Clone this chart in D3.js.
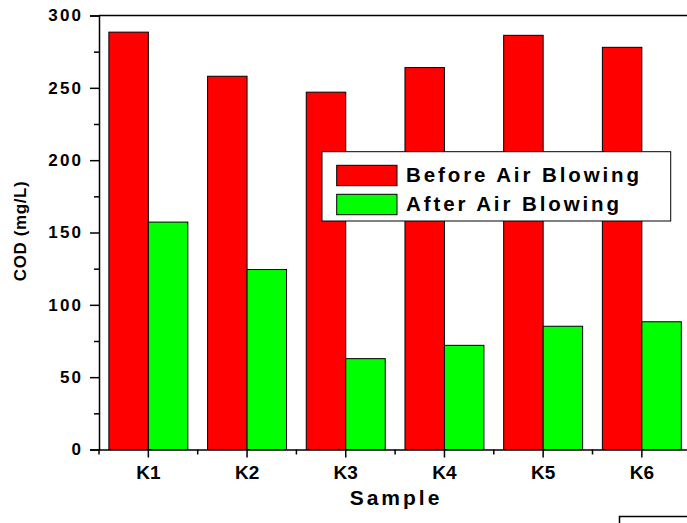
<!DOCTYPE html>
<html>
<head>
<meta charset="utf-8">
<script src="https://cdn.jsdelivr.net/npm/d3@7"></script>
<style>
  body { margin: 0; background: #fff; }
  svg { display: block; font-family: "Liberation Sans", Arial, sans-serif; font-weight: bold; }
</style>
</head>
<body>
<div id="canvas"></div>
<script>
// data
var samples = ["K1", "K2", "K3", "K4", "K5", "K6"];
var before = [288.5, 258, 247, 264, 286.3, 278];
var after = [157.2, 124.4, 62.8, 72, 85.2, 88.3];
var seriesNames = ["Before Air Blowing", "After Air Blowing"];
var seriesColors = ["#ff0000", "#00ff00"];
var yMajor = [0, 50, 100, 150, 200, 250, 300];
var yMinor = [25, 75, 125, 175, 225, 275];

var width = 687, height = 523;
var pLeft = 99, pTop = 15.5, pBottom = 449.5, pRight = 691.2;

var svg = d3.select("#canvas").append("svg")
  .attr("width", width)
  .attr("height", height);

var x = d3.scaleBand()
  .domain(samples)
  .range([pLeft, pRight])
  .paddingInner(0.2)
  .paddingOuter(0.1);
var xs = d3.scaleBand()
  .domain([0, 1])
  .range([0, x.bandwidth()]);
var y = d3.scaleLinear()
  .domain([0, 300])
  .range([pBottom, pTop]);

var rows = samples.map((s, i) => { return {name: s, vals: [before[i], after[i]]}; });

// bars
var groups = svg.selectAll("g.grp").data(rows).enter()
  .append("g")
  .attr("class", "grp")
  .attr("transform", (d) => { return "translate(" + x(d.name) + ",0)"; });
groups.selectAll("rect")
  .data((d) => { return d.vals.map((v, k) => { return {k: k, v: v}; }); })
  .enter().append("rect")
  .attr("x", (d) => { return xs(d.k); })
  .attr("y", (d) => { return y(d.v); })
  .attr("width", xs.bandwidth())
  .attr("height", (d) => { return y(0) - y(d.v); })
  .attr("fill", (d) => { return seriesColors[d.k]; })
  .attr("stroke", "#000")
  .attr("stroke-width", 1);

// top frame line
svg.append("line")
  .attr("x1", pLeft).attr("x2", pRight)
  .attr("y1", pTop).attr("y2", pTop)
  .attr("stroke", "#000").attr("stroke-width", 1.5);

// left axis
var leftAxis = d3.axisLeft(y).tickValues(yMajor).tickSize(9).tickPadding(9);
var gy = svg.append("g")
  .attr("class", "left axis")
  .attr("transform", "translate(" + pLeft + ",0)")
  .call(leftAxis);
gy.selectAll("text")
  .attr("font-size", "17px")
  .attr("font-family", "Liberation Sans, Arial, sans-serif")
  .attr("font-weight", "bold")
  .attr("letter-spacing", "2.2px")
  .attr("dx", "2.2px");
var gyMinor = svg.append("g")
  .attr("transform", "translate(" + pLeft + ",0)")
  .call(d3.axisLeft(y).tickValues(yMinor).tickSize(5).tickFormat(""));
gyMinor.select(".domain").remove();
gyMinor.selectAll("line").attr("stroke-width", 1.5);

// bottom axis
var bottomAxis = d3.axisBottom(x).tickSize(8).tickPadding(8.5).tickSizeOuter(0);
var gx = svg.append("g")
  .attr("class", "x axis")
  .attr("transform", "translate(0," + pBottom + ")")
  .call(bottomAxis);
gx.selectAll("text")
  .attr("font-size", "19px")
  .attr("font-family", "Liberation Sans, Arial, sans-serif")
  .attr("font-weight", "bold");
var bounds = samples.map((s) => { return x(s) - x.step() * x.paddingInner() / 2; });
bounds.push(pRight);
svg.append("g").selectAll("line").data(bounds).enter()
  .append("line")
  .attr("x1", (d) => { return d; }).attr("x2", (d) => { return d; })
  .attr("y1", pBottom).attr("y2", pBottom + 5)
  .attr("stroke", "#000").attr("stroke-width", 1.5);

svg.selectAll(".axis .domain, .axis line").attr("stroke-width", 1.5);

// axis labels
svg.append("text")
  .attr("x", 394.5 + 1.5)
  .attr("y", 505)
  .attr("text-anchor", "middle")
  .attr("font-size", "21px")
  .attr("letter-spacing", "3px")
  .text("Sample");

svg.append("text")
  .attr("transform", "translate(25.5,231) rotate(-90)")
  .attr("text-anchor", "middle")
  .attr("font-size", "17px")
  .attr("letter-spacing", "0.6px")
  .text("COD (mg/L)");

// legend
var lg = svg.append("g").attr("transform", "translate(322,151.7)");
lg.append("rect")
  .attr("width", 348.7).attr("height", 69.3)
  .attr("fill", "#fff").attr("stroke", "#000").attr("stroke-width", 1);
var items = lg.selectAll("g.item").data(seriesNames).enter()
  .append("g")
  .attr("class", "item")
  .attr("transform", (d, i) => { return "translate(14.7," + (13.6 + i * 29) + ")"; });
items.append("rect")
  .attr("width", 60.3).attr("height", 20.4)
  .attr("fill", (d, i) => { return seriesColors[i]; })
  .attr("stroke", "#000").attr("stroke-width", 1);
items.append("text")
  .attr("x", 69.3)
  .attr("y", 16.4)
  .attr("font-size", "20.5px")
  .attr("letter-spacing", "2.9px")
  .text((d) => { return d; });

// box at the bottom right corner
svg.append("rect")
  .attr("x", 619.5).attr("y", 516.5)
  .attr("width", 100).attr("height", 30)
  .attr("fill", "none").attr("stroke", "#000").attr("stroke-width", 1.5);
</script>
</body>
</html>
